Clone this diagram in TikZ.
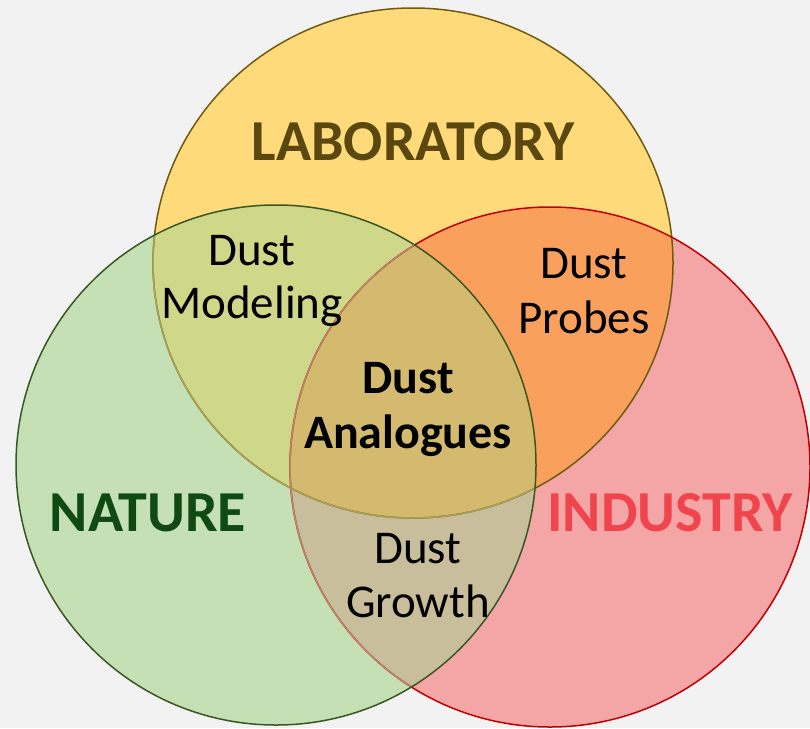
\documentclass[tikz,border=0pt]{standalone}
\usepackage{fontspec}
\setmainfont{Carlito}
\definecolor{bg}{HTML}{F2F2F2}
\definecolor{yfill}{HTML}{FFDA7B}
\definecolor{gfill}{HTML}{C5E0B4}
\definecolor{rfill}{HTML}{F4A6A6}
\definecolor{ygfill}{HTML}{CFD789}
\definecolor{yrfill}{HTML}{F9A05C}
\definecolor{grfill}{HTML}{C9BE9B}
\definecolor{allfill}{HTML}{D4BA6E}
\definecolor{yline}{HTML}{6F5A10}
\definecolor{gline}{HTML}{385723}
\definecolor{rline}{HTML}{C00000}
\definecolor{ylinefade}{HTML}{A9A05A}
\definecolor{rlinefade}{HTML}{B8866A}
\definecolor{labtext}{HTML}{5A4810}
\definecolor{nattext}{HTML}{0F4A12}
\definecolor{indtext}{HTML}{F0454D}
\tikzset{
  outline/.style={line width=1.5pt},
  biglabel/.style={anchor=base, inner sep=0pt, font=\fontsize{58}{66}\selectfont\bfseries},
  smalllabel/.style={anchor=base, inner sep=0pt, font=\fontsize{47}{54}\selectfont, text=black},
  boldlabel/.style={anchor=base, inner sep=0pt, font=\fontsize{48}{54}\selectfont\bfseries, text=black}
}
\begin{document}
\begin{tikzpicture}[x=1pt,y=-1pt]
\fill[bg] (0,0) rectangle (810,728);
\useasboundingbox (0,0) rectangle (810,728);
\def\R{260}
\def\Y{(cy) ellipse [x radius=260, y radius=255]}
\coordinate (cy) at (413,263);
\coordinate (cg) at (276,465);
\coordinate (cr) at (550,467);
% base fills
\fill[yfill] \Y;
\fill[rfill] (cr) circle (\R);
\fill[gfill] (cg) circle (\R);
% pairwise overlaps
\begin{scope}
  \clip \Y;
  \fill[ygfill] (cg) circle (\R);
  \fill[yrfill] (cr) circle (\R);
\end{scope}
\begin{scope}
  \clip (cg) circle (\R);
  \fill[grfill] (cr) circle (\R);
\end{scope}
\begin{scope}
  \clip \Y;
  \clip (cg) circle (\R);
  \fill[allfill] (cr) circle (\R);
\end{scope}
% outlines
\draw[outline, yline] \Y;
\draw[outline, rline] (cr) circle (\R);
\begin{scope}
  \clip (cg) circle (\R);
  \draw[outline, ylinefade] \Y;
  \draw[outline, rlinefade] (cr) circle (\R);
\end{scope}
\draw[outline, gline] (cg) circle (\R);
% labels
\node[biglabel, text=labtext] (lab) at (413,160) {LABORATORY};
\node[biglabel, text=nattext] (nat) at (148,531) {NATURE};
\node[biglabel, text=indtext] (ind) at (670,531) {INDUSTRY};
\node[smalllabel] (dm1) at (252,265) {Dust};
\node[smalllabel] (dm2) at (252,318) {Modeling};
\node[smalllabel] (dp1) at (584,278) {Dust};
\node[smalllabel] (dp2) at (584,333) {Probes};
\node[boldlabel] (da1) at (408,393) {Dust};
\node[boldlabel] (da2) at (408,448) {Analogues};
\node[smalllabel] (dg1) at (418,563) {Dust};
\node[smalllabel] (dg2) at (418,617) {Growth};
\end{tikzpicture}
\end{document}
